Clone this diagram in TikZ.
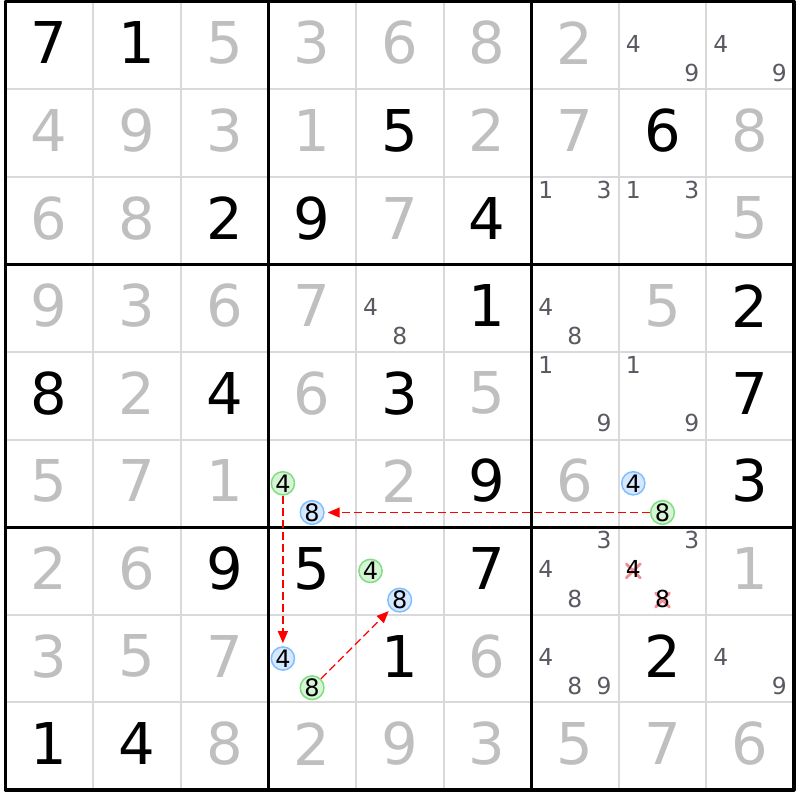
\documentclass[tikz,border=0pt]{standalone}
\usepackage{fontspec}
\setmainfont{DejaVu Sans}
\usetikzlibrary{arrows.meta}
\definecolor{gridgray}{rgb}{0.85,0.85,0.85}
\definecolor{solvgray}{rgb}{0.75,0.75,0.75}
\definecolor{candgray}{rgb}{0.35,0.35,0.38}
\definecolor{grnfill}{rgb}{0.84,0.96,0.84}
\definecolor{grnline}{rgb}{0.5,0.87,0.5}
\definecolor{blufill}{rgb}{0.84,0.91,1.}
\definecolor{bluline}{rgb}{0.5,0.75,1.}
\definecolor{xpink}{rgb}{0.96,0.55,0.58}
\begin{document}
\begin{tikzpicture}[line cap=round,line join=round,x=0.5pt,y=-0.5pt,
  given/.style={font=\fontsize{28.8}{30}\selectfont,text=black,inner sep=0pt},
  solved/.style={font=\fontsize{28.8}{30}\selectfont,text=solvgray,inner sep=0pt},
  pencil/.style={font=\fontsize{11.7}{13}\selectfont,text=candgray,inner sep=0pt},
  onchain/.style={circle,inner sep=0pt,minimum size=10.5pt,line width=0.75pt,font=\fontsize{12}{13}\selectfont,text=black},
  grnmark/.style={onchain,draw=grnline,fill=grnfill},
  blumark/.style={onchain,draw=bluline,fill=blufill},
  link/.style={red,line width=0.65pt,dash pattern=on 4pt off 2pt,line cap=butt,-{Triangle[length=6pt,width=5pt]},shorten >=1.5pt}]
\useasboundingbox (0,0) rectangle (800,800);
\fill[white] (0,0) rectangle (800,800);
% thin lines
\foreach \i in {1,2,4,5,7,8} {
  \draw[gridgray,line width=1pt] ({5.5+87.6*\i},1.5) -- ({5.5+87.6*\i},789.9);
  \draw[gridgray,line width=1pt] (5.5,{1.5+87.6*\i}) -- (793.9,{1.5+87.6*\i});
}
% box lines
\foreach \i in {0,3,6,9} {
  \draw[black,line width=1.6pt] ({5.5+87.6*\i},1.5) -- ({5.5+87.6*\i},789.9);
  \draw[black,line width=1.6pt] (5.5,{1.5+87.6*\i}) -- (793.9,{1.5+87.6*\i});
}
% givens
\foreach \r/\c/\d in {0/0/7,0/1/1,1/4/5,1/7/6,2/2/2,2/3/9,2/5/4,3/5/1,3/8/2,4/0/8,4/2/4,4/4/3,4/8/7,
  5/5/9,5/8/3,6/2/9,6/3/5,6/5/7,7/4/1,7/7/2,8/0/1,8/1/4}
  \node[given] (g\r\c) at ({5.5+87.6*\c+43.8},{1.5+87.6*\r+43.8-2.4}) {\d};
% solved cells
\foreach \r/\c/\d in {0/2/5,0/3/3,0/4/6,0/5/8,0/6/2,1/0/4,1/1/9,1/2/3,1/3/1,1/5/2,1/6/7,1/8/8,
  2/0/6,2/1/8,2/4/7,2/8/5,3/0/9,3/1/3,3/2/6,3/3/7,3/7/5,4/1/2,4/3/6,4/5/5,
  5/0/5,5/1/7,5/2/1,5/4/2,5/6/6,6/0/2,6/1/6,6/8/1,7/0/3,7/1/5,7/2/7,7/5/6,
  8/2/8,8/3/2,8/4/9,8/5/3,8/6/5,8/7/7,8/8/6}
  \node[solved] (s\r\c) at ({5.5+87.6*\c+43.8},{1.5+87.6*\r+43.8-2.4}) {\d};
% candidates
\foreach \r/\c/\d in {0/7/4,0/7/9,0/8/4,0/8/9,2/6/1,2/6/3,2/7/1,2/7/3,3/4/4,3/4/8,3/6/4,3/6/8,
  4/6/1,4/6/9,4/7/1,4/7/9,6/6/3,6/6/4,6/6/8,6/7/3,7/6/4,7/6/8,7/6/9,7/8/4,7/8/9} {
  \pgfmathtruncatemacro{\k}{mod(\d-1,3)}
  \pgfmathtruncatemacro{\l}{(\d-1)/3}
  \node[pencil] (p\r\c\d) at ({5.5+87.6*\c+29.2*\k+14.6},{1.5+87.6*\r+29.2*\l+14.6-1.5}) {\d};
}
% eliminated candidates
\foreach \r/\c/\d in {6/7/4,6/7/8} {
  \pgfmathtruncatemacro{\k}{mod(\d-1,3)}
  \pgfmathtruncatemacro{\l}{(\d-1)/3}
  \draw[xpink,line width=1.4pt] ({5.5+87.6*\c+29.2*\k+14.6-7},{1.5+87.6*\r+29.2*\l+14.6-7}) -- ++(14,14)
    ++(0,-14) -- ++(-14,14);
  \node[pencil,text=black] (x\r\c\d) at ({5.5+87.6*\c+29.2*\k+14.6},{1.5+87.6*\r+29.2*\l+14.6-1.5}) {\d};
}
% chain candidates
\node[grnmark] (c534) at (282.9,483.3) {4};
\node[blumark] (c538) at (312.1,512.5) {8};
\node[blumark] (c574) at (633.3,483.3) {4};
\node[grnmark] (c578) at (662.5,512.5) {8};
\node[grnmark] (c644) at (370.5,570.9) {4};
\node[blumark] (c648) at (399.7,600.1) {8};
\node[blumark] (c734) at (282.9,658.5) {4};
\node[grnmark] (c738) at (312.1,687.7) {8};
\draw[link] (c578) -- (c538);
\draw[link] (c534) -- (c734);
\draw[link] (c738) -- (c648);
\end{tikzpicture}
\end{document}
